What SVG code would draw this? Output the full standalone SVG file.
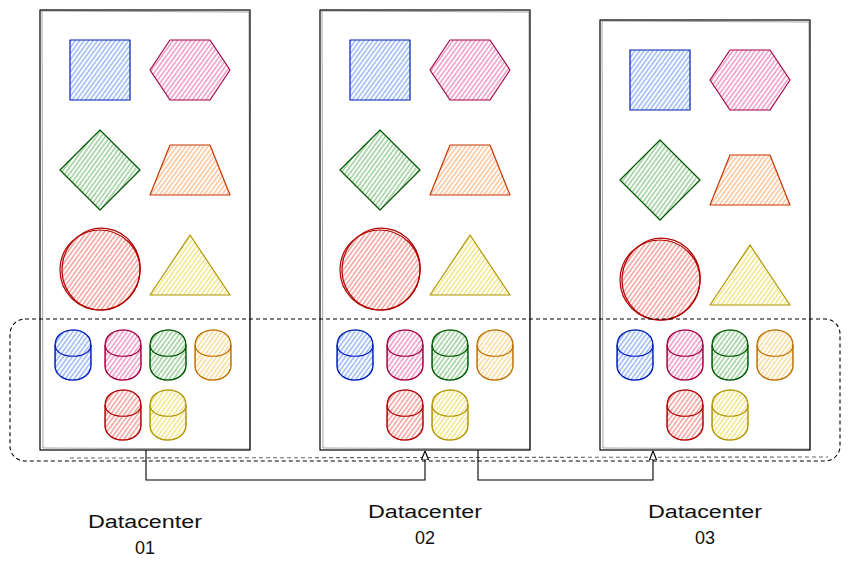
<svg xmlns="http://www.w3.org/2000/svg" width="851" height="572" viewBox="0 0 851 572">
<defs>
<pattern id="hb" patternUnits="userSpaceOnUse" width="3.6" height="10" patternTransform="rotate(36)"><line x1="1" y1="0" x2="1" y2="10" stroke="#0050ef" stroke-opacity="0.55" stroke-width="1.1"/></pattern>
<pattern id="hp" patternUnits="userSpaceOnUse" width="3.6" height="10" patternTransform="rotate(36)"><line x1="1" y1="0" x2="1" y2="10" stroke="#d80073" stroke-opacity="0.55" stroke-width="1.1"/></pattern>
<pattern id="hg" patternUnits="userSpaceOnUse" width="3.6" height="10" patternTransform="rotate(36)"><line x1="1" y1="0" x2="1" y2="10" stroke="#008a00" stroke-opacity="0.55" stroke-width="1.1"/></pattern>
<pattern id="ho" patternUnits="userSpaceOnUse" width="3.6" height="10" patternTransform="rotate(36)"><line x1="1" y1="0" x2="1" y2="10" stroke="#fa6800" stroke-opacity="0.55" stroke-width="1.1"/></pattern>
<pattern id="ha" patternUnits="userSpaceOnUse" width="3.6" height="10" patternTransform="rotate(36)"><line x1="1" y1="0" x2="1" y2="10" stroke="#f0a30a" stroke-opacity="0.55" stroke-width="1.1"/></pattern>
<pattern id="hr" patternUnits="userSpaceOnUse" width="3.6" height="10" patternTransform="rotate(36)"><line x1="1" y1="0" x2="1" y2="10" stroke="#e51400" stroke-opacity="0.55" stroke-width="1.1"/></pattern>
<pattern id="hy" patternUnits="userSpaceOnUse" width="3.6" height="10" patternTransform="rotate(36)"><line x1="1" y1="0" x2="1" y2="10" stroke="#e3c800" stroke-opacity="0.65" stroke-width="1.1"/></pattern>
<path id="cyl" d="M0,15 C0,-5 36,-5 36,15 L36,35 C36,55 0,55 0,35 Z"/>
<path id="cyli" d="M0,15 C0,30 36,30 36,15"/>
<path id="cylb" d="M0.5,16 C0,-4 35,-6 35.5,14 L36,34 C36.5,54 0.5,56 0,36 Z"/>
<marker id="arr" viewBox="0 0 10 10" refX="10" refY="5" markerWidth="9" markerHeight="9" markerUnits="userSpaceOnUse" orient="auto"><path d="M0,1 L10,5 L0,9 Z" fill="#fff" stroke="#000" stroke-width="1.3"/></marker>
</defs>
<style>
.dc{fill:#fff;stroke:#000;stroke-width:1.2}
.dc2{fill:none;stroke:#000;stroke-width:0.6;stroke-opacity:0.6}
.s{stroke-width:1.2;stroke-linejoin:round}
.blue{fill:url(#hb);stroke:#001DBC}
.pink{fill:url(#hp);stroke:#A50040}
.green{fill:url(#hg);stroke:#005700}
.orange{fill:url(#ho);stroke:#C73500}
.amber{fill:url(#ha);stroke:#BD7000}
.red{fill:url(#hr);stroke:#B20000}
.yellow{fill:url(#hy);stroke:#B09500}
.in{fill:none}
.edge{fill:none;stroke:#000;stroke-width:1.1}
.dash{fill:none;stroke:#000;stroke-width:1.1;stroke-dasharray:4 3}
.lbl{font-family:"Liberation Sans",Arial,sans-serif;font-size:18px;fill:#111;text-anchor:middle}
</style>

<!-- Datacenter containers -->
<g id="dc1"><rect class="dc" x="40" y="10" width="210" height="440"/><path class="dc2" d="M42,11 L249,12 L250,449 L43,448 Z"/></g>
<g id="dc2"><rect class="dc" x="320" y="10" width="210" height="440"/><path class="dc2" d="M322,11 L529,12 L530,449 L323,448 Z"/></g>
<g id="dc3"><rect class="dc" x="600" y="20" width="210" height="430"/><path class="dc2" d="M602,21 L809,22 L810,449 L603,448 Z"/></g>

<!-- DC1 shapes -->
<g id="dc1-square" transform="translate(70,40)"><rect class="s blue" x="0" y="0" width="60" height="60"/></g>
<g id="dc1-hex" transform="translate(150,40)"><polygon class="s pink" points="20,0 60,0 80,30 60,60 20,60 0,30"/></g>
<g id="dc1-diamond" transform="translate(60,130)"><polygon class="s green" points="40,0 80,40 40,80 0,40"/></g>
<g id="dc1-trap" transform="translate(150,145)"><polygon class="s orange" points="20,0 60,0 80,50 0,50"/></g>
<g id="dc1-circle" transform="translate(60,230)"><circle class="s red" cx="40" cy="40" r="40"/><ellipse class="s in" stroke="#B20000" cx="41" cy="39" rx="39" ry="41" transform="rotate(8 40 40)"/></g>
<g id="dc1-tri" transform="translate(150,235)"><polygon class="s yellow" points="40,0 80,60 0,60"/></g>

<!-- DC2 shapes -->
<g id="dc2-square" transform="translate(350,40)"><rect class="s blue" x="0" y="0" width="60" height="60"/></g>
<g id="dc2-hex" transform="translate(430,40)"><polygon class="s pink" points="20,0 60,0 80,30 60,60 20,60 0,30"/></g>
<g id="dc2-diamond" transform="translate(340,130)"><polygon class="s green" points="40,0 80,40 40,80 0,40"/></g>
<g id="dc2-trap" transform="translate(430,145)"><polygon class="s orange" points="20,0 60,0 80,50 0,50"/></g>
<g id="dc2-circle" transform="translate(340,230)"><circle class="s red" cx="40" cy="40" r="40"/><ellipse class="s in" stroke="#B20000" cx="41" cy="39" rx="39" ry="41" transform="rotate(8 40 40)"/></g>
<g id="dc2-tri" transform="translate(430,235)"><polygon class="s yellow" points="40,0 80,60 0,60"/></g>

<!-- DC3 shapes -->
<g id="dc3-square" transform="translate(630,50)"><rect class="s blue" x="0" y="0" width="60" height="60"/></g>
<g id="dc3-hex" transform="translate(710,50)"><polygon class="s pink" points="20,0 60,0 80,30 60,60 20,60 0,30"/></g>
<g id="dc3-diamond" transform="translate(620,140)"><polygon class="s green" points="40,0 80,40 40,80 0,40"/></g>
<g id="dc3-trap" transform="translate(710,155)"><polygon class="s orange" points="20,0 60,0 80,50 0,50"/></g>
<g id="dc3-circle" transform="translate(620,240)"><circle class="s red" cx="40" cy="40" r="40"/><ellipse class="s in" stroke="#B20000" cx="41" cy="39" rx="39" ry="41" transform="rotate(8 40 40)"/></g>
<g id="dc3-tri" transform="translate(710,245)"><polygon class="s yellow" points="40,0 80,60 0,60"/></g>

<!-- DC1 cylinders -->
<g id="dc1-db1" transform="translate(55,330)"><use href="#cyl" class="s blue"/><use href="#cyli" class="s in" stroke="#001DBC"/><use href="#cylb" class="in" stroke="#001DBC" stroke-width="0.7"/></g>
<g id="dc1-db2" transform="translate(105,330)"><use href="#cyl" class="s pink"/><use href="#cyli" class="s in" stroke="#A50040"/><use href="#cylb" class="in" stroke="#A50040" stroke-width="0.7"/></g>
<g id="dc1-db3" transform="translate(150,330)"><use href="#cyl" class="s green"/><use href="#cyli" class="s in" stroke="#005700"/><use href="#cylb" class="in" stroke="#005700" stroke-width="0.7"/></g>
<g id="dc1-db4" transform="translate(195,330)"><use href="#cyl" class="s amber"/><use href="#cyli" class="s in" stroke="#BD7000"/><use href="#cylb" class="in" stroke="#BD7000" stroke-width="0.7"/></g>
<g id="dc1-db5" transform="translate(105,390)"><use href="#cyl" class="s red"/><use href="#cyli" class="s in" stroke="#B20000"/><use href="#cylb" class="in" stroke="#B20000" stroke-width="0.7"/></g>
<g id="dc1-db6" transform="translate(150,390)"><use href="#cyl" class="s yellow"/><use href="#cyli" class="s in" stroke="#B09500"/><use href="#cylb" class="in" stroke="#B09500" stroke-width="0.7"/></g>

<!-- DC2 cylinders -->
<g id="dc2-db1" transform="translate(337,330)"><use href="#cyl" class="s blue"/><use href="#cyli" class="s in" stroke="#001DBC"/><use href="#cylb" class="in" stroke="#001DBC" stroke-width="0.7"/></g>
<g id="dc2-db2" transform="translate(387,330)"><use href="#cyl" class="s pink"/><use href="#cyli" class="s in" stroke="#A50040"/><use href="#cylb" class="in" stroke="#A50040" stroke-width="0.7"/></g>
<g id="dc2-db3" transform="translate(432,330)"><use href="#cyl" class="s green"/><use href="#cyli" class="s in" stroke="#005700"/><use href="#cylb" class="in" stroke="#005700" stroke-width="0.7"/></g>
<g id="dc2-db4" transform="translate(477,330)"><use href="#cyl" class="s amber"/><use href="#cyli" class="s in" stroke="#BD7000"/><use href="#cylb" class="in" stroke="#BD7000" stroke-width="0.7"/></g>
<g id="dc2-db5" transform="translate(387,390)"><use href="#cyl" class="s red"/><use href="#cyli" class="s in" stroke="#B20000"/><use href="#cylb" class="in" stroke="#B20000" stroke-width="0.7"/></g>
<g id="dc2-db6" transform="translate(432,390)"><use href="#cyl" class="s yellow"/><use href="#cyli" class="s in" stroke="#B09500"/><use href="#cylb" class="in" stroke="#B09500" stroke-width="0.7"/></g>

<!-- DC3 cylinders -->
<g id="dc3-db1" transform="translate(617,330)"><use href="#cyl" class="s blue"/><use href="#cyli" class="s in" stroke="#001DBC"/><use href="#cylb" class="in" stroke="#001DBC" stroke-width="0.7"/></g>
<g id="dc3-db2" transform="translate(667,330)"><use href="#cyl" class="s pink"/><use href="#cyli" class="s in" stroke="#A50040"/><use href="#cylb" class="in" stroke="#A50040" stroke-width="0.7"/></g>
<g id="dc3-db3" transform="translate(712,330)"><use href="#cyl" class="s green"/><use href="#cyli" class="s in" stroke="#005700"/><use href="#cylb" class="in" stroke="#005700" stroke-width="0.7"/></g>
<g id="dc3-db4" transform="translate(757,330)"><use href="#cyl" class="s amber"/><use href="#cyli" class="s in" stroke="#BD7000"/><use href="#cylb" class="in" stroke="#BD7000" stroke-width="0.7"/></g>
<g id="dc3-db5" transform="translate(667,390)"><use href="#cyl" class="s red"/><use href="#cyli" class="s in" stroke="#B20000"/><use href="#cylb" class="in" stroke="#B20000" stroke-width="0.7"/></g>
<g id="dc3-db6" transform="translate(712,390)"><use href="#cyl" class="s yellow"/><use href="#cyli" class="s in" stroke="#B09500"/><use href="#cylb" class="in" stroke="#B09500" stroke-width="0.7"/></g>

<!-- Dashed group boundary -->
<g id="cluster">
<rect class="dash" x="10" y="319" width="830" height="142" rx="15"/>
<path class="dash" stroke-opacity="0.6" d="M70,458 L828,457"/>
</g>

<!-- Connectors -->
<g id="connectors">
<path class="edge" d="M146,450 V480 H425 V451" marker-end="url(#arr)"/>
<path class="edge" d="M478,450 V480 H653 V451" marker-end="url(#arr)"/>
</g>

<!-- Labels -->
<g id="label-dc1"><text class="lbl" x="145" y="528" textLength="114" lengthAdjust="spacingAndGlyphs">Datacenter</text><text class="lbl" x="145" y="554">01</text></g>
<g id="label-dc2"><text class="lbl" x="425" y="518" textLength="114" lengthAdjust="spacingAndGlyphs">Datacenter</text><text class="lbl" x="425" y="544">02</text></g>
<g id="label-dc3"><text class="lbl" x="705" y="518" textLength="114" lengthAdjust="spacingAndGlyphs">Datacenter</text><text class="lbl" x="705" y="544">03</text></g>
</svg>
